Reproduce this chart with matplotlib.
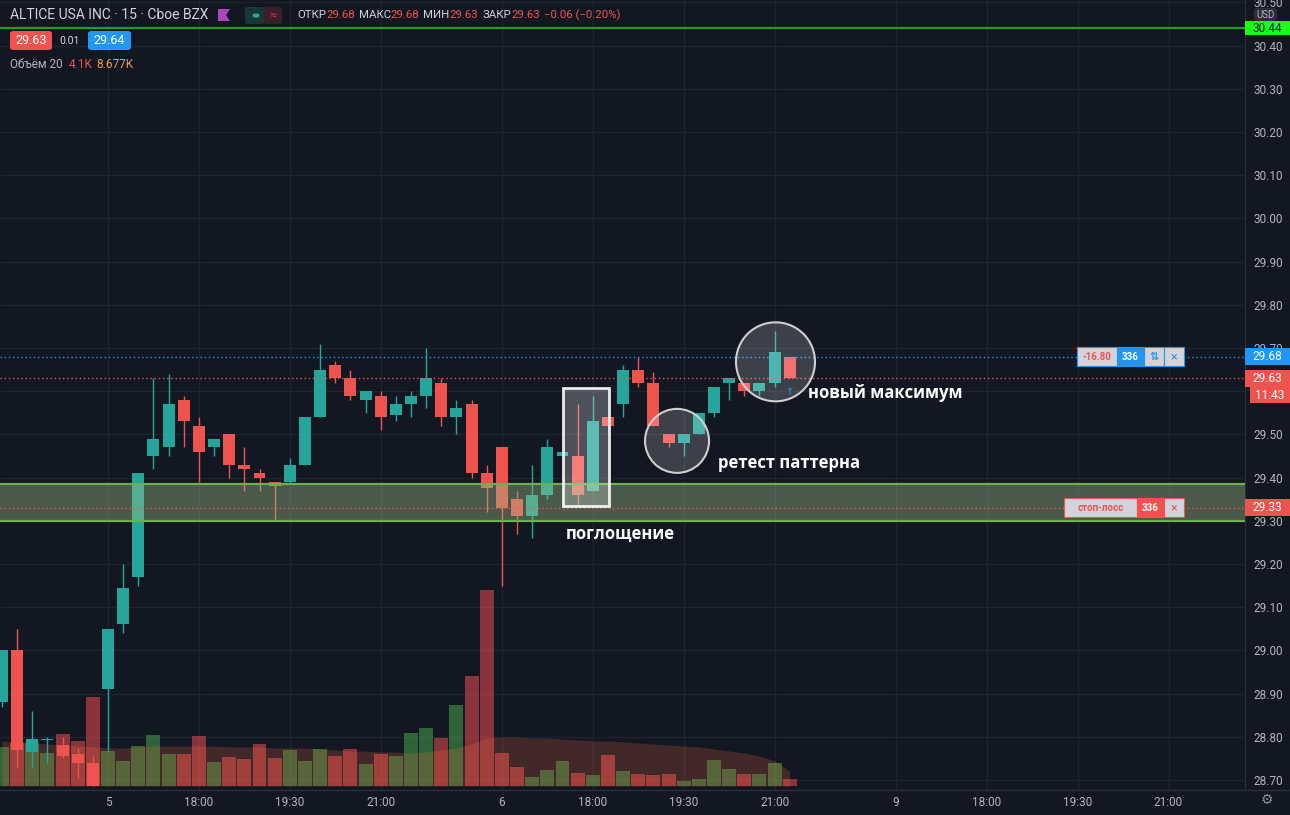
import matplotlib.pyplot as plt
import numpy as np
from matplotlib.patches import Rectangle, Ellipse, FancyBboxPatch, Polygon, Circle
from matplotlib.lines import Line2D
from matplotlib.transforms import blended_transform_factory

plt.rcParams['font.family'] = ['Roboto', 'DejaVu Sans']

# 15-мин свечи, индекс 0 = 5-е число 16:30 (отрицательные - конец прошлой сессии)
idx = list(range(-7, 46))
opens = [28.88, 29.00, 28.765, 28.792, 28.78, 28.76, 28.74,
         28.91, 29.06, 29.17, 29.45, 29.47, 29.58, 29.52, 29.47, 29.50, 29.43,
         29.41, 29.39, 29.39, 29.43, 29.54, 29.66, 29.63, 29.58, 29.59, 29.545,
         29.57, 29.59, 29.62, 29.54, 29.57, 29.41,
         29.47, 29.35, 29.31, 29.36, 29.45, 29.45, 29.37, 29.54, 29.57, 29.65,
         29.62, 29.50, 29.48, 29.50, 29.55, 29.62, 29.62, 29.60, 29.62, 29.68]
highs = [29.00, 29.05, 28.86, 28.80, 28.80, 28.775, 28.755,
         29.05, 29.20, 29.41, 29.63, 29.64, 29.59, 29.54, 29.49, 29.50, 29.47,
         29.42, 29.39, 29.445, 29.54, 29.71, 29.67, 29.65, 29.60, 29.60, 29.59,
         29.60, 29.70, 29.63, 29.58, 29.58, 29.43,
         29.47, 29.37, 29.43, 29.49, 29.46, 29.57, 29.59, 29.54, 29.66, 29.68,
         29.645, 29.50, 29.50, 29.55, 29.61, 29.63, 29.62, 29.62, 29.74, 29.68]
lows = [28.87, 28.73, 28.73, 28.74, 28.75, 28.705, 28.685,
        28.765, 29.04, 29.15, 29.42, 29.45, 29.47, 29.39, 29.45, 29.40, 29.37,
        29.37, 29.30, 29.385, 29.43, 29.54, 29.62, 29.58, 29.55, 29.51, 29.53,
        29.54, 29.56, 29.52, 29.50, 29.40, 29.32,
        29.15, 29.27, 29.26, 29.35, 29.45, 29.34, 29.37, 29.52, 29.54, 29.61,
        29.52, 29.47, 29.45, 29.50, 29.54, 29.58, 29.59, 29.59, 29.61, 29.63]
closes = [29.00, 28.77, 28.795, 28.795, 28.755, 28.74, 28.685,
          29.05, 29.145, 29.41, 29.49, 29.57, 29.53, 29.46, 29.49, 29.43, 29.42,
          29.40, 29.38, 29.43, 29.54, 29.65, 29.63, 29.59, 29.60, 29.54, 29.57,
          29.59, 29.63, 29.54, 29.56, 29.41, 29.375,
          29.33, 29.31, 29.36, 29.47, 29.46, 29.36, 29.53, 29.52, 29.65, 29.62,
          29.52, 29.48, 29.50, 29.55, 29.61, 29.63, 29.60, 29.62, 29.69, 29.63]
# объём, тыс.
volumes = [22.9, 25.2, 25.2, 19.3, 30.5, 26.4, 52.2,
           20.5, 14.7, 23.4, 29.9, 18.8, 18.8, 29.3, 14.1, 17.0, 15.8,
           24.6, 16.4, 21.1, 14.7, 21.7, 17.6, 21.7, 12.9, 18.8, 17.6,
           31.1, 34.0, 28.1, 47.5, 64.5, 114.9,
           19.3, 11.1, 5.3, 9.4, 14.7, 7.6, 6.4, 18.2, 8.8, 7.0,
           6.4, 7.0, 2.9, 4.1, 15.2, 10.0, 7.0, 7.0, 13.5, 4.1]
vol_ma = [26.4, 25.8, 25.2, 24.6, 24.0, 23.4, 22.9,
          22.3, 22.3, 22.9, 23.4, 23.4, 23.4, 23.4, 23.4, 22.9, 22.9,
          22.9, 22.3, 22.3, 22.3, 21.7, 21.1, 20.5, 20.5, 19.9, 19.9,
          19.3, 19.9, 21.1, 22.3, 24.6, 28.1,
          28.7, 28.7, 28.1, 28.1, 27.5, 27.0, 26.4, 26.4, 25.8, 25.2,
          24.6, 24.0, 23.4, 22.9, 21.7, 20.5, 19.3, 17.6, 14.7, 8.7]

price_ticks = [28.70, 28.80, 28.90, 29.00, 29.10, 29.20, 29.30, 29.40, 29.50,
               29.60, 29.70, 29.80, 29.90, 30.00, 30.10, 30.20, 30.30, 30.40, 30.50]
time_pos = [0, 6, 12, 18, 26, 32, 38, 44, 52, 58, 64, 70]
time_labels = ['5', '18:00', '19:30', '21:00', '6', '18:00', '19:30', '21:00',
               '9', '18:00', '19:30', '21:00']

zone_low, zone_high = 29.30, 29.385
resistance = 30.44
entry_price = 29.68
last_price = 29.63
stop_price = 29.33

BG = '#131722'
TXT = '#b2b5be'
UP, DOWN = '#26a69a', '#ef5350'
BLUE = '#2196f3'
W, H = 1290, 815
PX = 432.0          # пикселей на 1.00 цены
X0, STEP = 108, 15.15

fig = plt.figure(figsize=(W / 100, H / 100), dpi=100, facecolor=BG)
rect = [0, 25 / H, 1245 / W, 790 / H]
axv = fig.add_axes(rect)
ax = fig.add_axes(rect, sharex=axv)
axv.set_zorder(0)
ax.set_zorder(1)
ax.patch.set_visible(False)
axv.set_facecolor(BG)

ax.set_xlim(-X0 / STEP, (1245 - X0) / STEP)
ax.set_ylim(28.70 - 10 / PX, 28.70 + 780 / PX)
axv.set_ylim(-4 * 0.586, 786 * 0.586)

# сетка (в нижнем слое)
T_grid = blended_transform_factory(axv.transAxes, ax.transData)
axv.hlines(price_ticks, 0, 1, transform=T_grid, color='#1f2330', lw=1, zorder=0)
for p in time_pos:
    axv.axvline(p, color='#1f2330', lw=1, zorder=0)

# объём + средняя
up = np.array(closes) >= np.array(opens)
vol_col = [(0.298, 0.686, 0.314, 0.5) if u else (1.0, 0.322, 0.322, 0.5) for u in up]
axv.bar(idx, volumes, width=0.92, color=vol_col, lw=0, zorder=2)
axv.fill_between(idx, 0, vol_ma, color='#ff7043', alpha=0.2, lw=0, zorder=3)
axv.set_yticks([])
axv.tick_params(axis='x', length=0, labelbottom=False)
for s in axv.spines.values():
    s.set_visible(False)

# свечи
cols = np.where(up, UP, DOWN)
ax.vlines(idx, lows, highs, colors=cols, lw=1, zorder=3)
body_lo = np.minimum(opens, closes)
body_h = np.maximum(np.abs(np.array(closes) - np.array(opens)), 0.0025)
ax.bar(idx, body_h, bottom=body_lo, width=0.79, color=cols, lw=0, zorder=4)

# зона поддержки
ax.axhspan(zone_low, zone_high, color='#9fbe88', alpha=0.4, lw=0, zorder=5)
ax.axhline(zone_low, color='#6ab04c', lw=1.6, zorder=5)
ax.axhline(zone_high, color='#6ab04c', lw=1.6, zorder=5)

ax.axhline(resistance, color='#1f9e1f', lw=1.6, zorder=6)
ax.axhline(entry_price, color=BLUE, lw=1, ls=(0, (1, 2)), zorder=6)
ax.axhline(last_price, color=DOWN, lw=1, ls=(0, (1, 2)), zorder=6)
ax.axhline(stop_price, color=DOWN, lw=1, ls=(0, (1, 2)), zorder=6)

# разметка паттерна
ax.add_patch(Rectangle((30.03, 29.334), 3.04, 0.273, fc=(1, 1, 1, 0.25),
                       ec=(1, 1, 1, 0.9), lw=2, zorder=7))
ax.add_patch(Ellipse((37.56, 29.485), 64 / STEP, 64 / PX, fc=(1, 1, 1, 0.18),
                     ec='#cfcfcf', lw=1.5, zorder=7))
ax.add_patch(Ellipse((44.06, 29.668), 79 / STEP, 79 / PX, fc=(1, 1, 1, 0.18),
                     ec='#cfcfcf', lw=1.5, zorder=7))
ann = dict(color='white', size=12, weight='bold', family=['Open Sans', 'DejaVu Sans'],
           va='center', zorder=8)
ax.text(30.23, 29.269, 'поглощение', **ann)
ax.text(40.26, 29.434, 'ретест паттерна', **ann)
ax.text(46.2, 29.596, 'новый максимум', **ann)
ax.text(45, 29.598, '↑', color=BLUE, size=7, ha='center', va='center', zorder=8)

# оси
ax.yaxis.tick_right()
ax.set_yticks(price_ticks, ['%.2f' % p for p in price_ticks])
ax.tick_params(axis='y', length=0, pad=6, labelsize=8.5, labelcolor=TXT)
ax.set_xticks(time_pos, time_labels)
ax.tick_params(axis='x', length=0, pad=4, labelsize=8.5, labelcolor=TXT)
for s in ax.spines.values():
    s.set_visible(False)
ax.spines['right'].set_visible(True)
ax.spines['right'].set_color('#2a2e39')
fig.add_artist(Line2D([0, 1], [25 / H, 25 / H], color='#2a2e39', lw=1))

T = blended_transform_factory(ax.transAxes, ax.transData)


def tag(x0, x1, y, h, fc, text='', tc='white', ec='none', size=7.5, weight='bold'):
    ax.add_patch(Rectangle((x0 / 1245, y - h / 2 / PX), (x1 - x0) / 1245, h / PX,
                           transform=T, fc=fc, ec=ec, lw=0.8, clip_on=False, zorder=12))
    if text:
        ax.text((x0 + x1) / 2 / 1245, y, text, transform=T, color=tc, size=size,
                weight=weight, ha='center', va='center', clip_on=False, zorder=13)


# метки на шкале цены
tag(1245, 1290, resistance, 14, '#1aff1a', '%.2f' % resistance, tc=BG, size=8.5, weight='normal')
tag(1245, 1290, entry_price, 17, BLUE, '%.2f' % entry_price, size=8.5, weight='normal')
tag(1245, 1290, last_price, 17, DOWN, '%.2f' % last_price, size=8.5, weight='normal')
tag(1250, 1290, last_price - 17 / PX, 16, DOWN, '11:43', size=8.5, weight='normal')
tag(1245, 1290, stop_price, 17, DOWN, '%.2f' % stop_price, size=8.5, weight='normal')

# позиция и стоп
GR = '#d1d4dc'
tag(1077, 1117, entry_price, 19, GR, '-16.80', tc=DOWN, ec=BLUE, size=7)
tag(1117, 1144, entry_price, 19, BLUE, '336', ec=BLUE, size=7)
tag(1144, 1164, entry_price, 19, GR, '⇅', tc=BLUE, ec=BLUE, size=8)
tag(1164, 1184, entry_price, 19, GR, '×', tc=BLUE, ec=BLUE, size=9, weight='normal')
tag(1064, 1137, stop_price, 19, GR, 'стоп-лосс', tc=DOWN, ec=DOWN, size=7)
tag(1137, 1164, stop_price, 19, DOWN, '336', ec=DOWN, size=7)
tag(1164, 1184, stop_price, 19, GR, '×', tc=DOWN, ec=DOWN, size=9, weight='normal')


# шапка
def ftx(x, y, s, **kw):
    kw.setdefault('va', 'center')
    return fig.text(x / W, 1 - y / H, s, **kw)


def frect(x0, y0, x1, y1, **kw):
    p = FancyBboxPatch((x0 / W, 1 - y1 / H), (x1 - x0) / W, (y1 - y0) / H,
                       boxstyle='round,pad=0,rounding_size=0.003',
                       transform=fig.transFigure, **kw)
    fig.add_artist(p)


ren = fig.canvas.get_renderer()


def run(x, y, parts, size):
    for s, c, g in parts:
        t = ftx(x, y, s, color=c, size=size)
        x += t.get_window_extent(ren).width + g


ftx(10, 15, 'ALTICE USA INC · 15 · Cboe BZX', color='#d1d4dc', size=10)
fig.add_artist(Polygon([(218 / W, 1 - 9 / H), (230 / W, 1 - 9 / H), (226 / W, 1 - 15 / H),
                        (230 / W, 1 - 21 / H), (218 / W, 1 - 21 / H)],
                       closed=True, fc='#ab47bc', ec='none', transform=fig.transFigure))
frect(245, 7, 282, 24, fc='#3a1e2a', ec='none')
frect(245, 7, 264, 24, fc='#173834', ec='none')
fig.add_artist(Circle((256 / W, 1 - 15.5 / H), 3.5 / W, fc=UP, ec='none',
                      transform=fig.transFigure))
ftx(273, 15, '≈', color='#e91e63', size=9, ha='center')
run(297, 15, [('ОТКР', '#d1d4dc', 0), ('29.68', DOWN, 4), ('МАКС', '#d1d4dc', 0),
              ('29.68', DOWN, 4), ('МИН', '#d1d4dc', 0), ('29.63', DOWN, 4),
              ('ЗАКР', '#d1d4dc', 0), ('29.63', DOWN, 4), ('−0.06 (−0.20%)', DOWN, 0)], 8.2)

frect(10, 31, 52, 50, fc=DOWN, ec='none')
ftx(31, 40.5, '29.63', color='white', size=9, ha='center')
ftx(70, 40.5, '0.01', color='#d1d4dc', size=7.5, ha='center')
frect(88, 31, 131, 50, fc=BLUE, ec='none')
ftx(109.5, 40.5, '29.64', color='white', size=9, ha='center')
run(10, 65, [('Объём 20', TXT, 6), ('4.1K', DOWN, 4), ('8.677K', '#ff9850', 0)], 8.5)

frect(1254, 8, 1277, 21, fc='#2a2e39', ec='none')
ftx(1265.5, 14.5, 'USD', color=TXT, size=7, ha='center')
ftx(1267, 800, '⚙', color='#8a8e99', size=10, ha='center')

fig.savefig('out.png', dpi=100, facecolor=BG)
